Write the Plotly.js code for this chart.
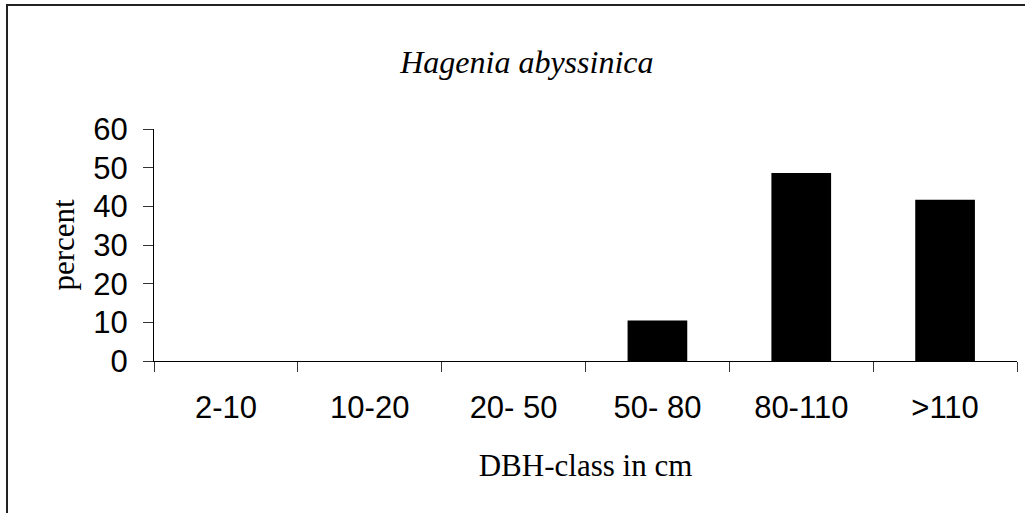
<!DOCTYPE html>
<html>
<head>
<meta charset="utf-8">
<script src="https://cdn.plot.ly/plotly-3.0.1.min.js"></script>
<style>
  html, body { margin: 0; padding: 0; background: #fff; }
  #chart { width: 1025px; height: 513px; }
</style>
</head>
<body>
<div id="chart"></div>
<script>
// DBH classes and share of stems (%)
var classes = ["2-10", "10-20", "20- 50", "50- 80", "80-110", ">110"];
var percent = [0, 0, 0, 10.5, 48.6, 41.7];
var yTicks = [0, 10, 20, 30, 40, 50, 60];

var sans = "Liberation Sans, Arial, sans-serif";
var serif = "Liberation Serif, Times New Roman, serif";

var bars = {
    type: "bar",
    x: classes,
    y: percent,
    marker: { color: "#000000", line: { color: "#000000", width: 0 } },
    hoverinfo: "x+y"
};

var layout = {
    width: 1025,
    height: 513,
    margin: { l: 154, r: 8, t: 129, b: 152, pad: 0 },
    paper_bgcolor: "#ffffff",
    plot_bgcolor: "#ffffff",
    showlegend: false,
    bargap: 0.585,
    title: {
        text: "<i>Hagenia abyssinica</i>",
        font: { family: serif, size: 32, color: "#000" },
        xref: "container", x: 0.514, xanchor: "center",
        yref: "container", y: 0.879, yanchor: "middle"
    },
    xaxis: {
        type: "category",
        range: [-0.5, 5.5],
        showline: true, linecolor: "#000", linewidth: 1,
        ticks: "outside", tickson: "boundaries", ticklen: 10, tickcolor: "#333", tickwidth: 1,
        showgrid: false, zeroline: false,
        tickfont: { family: sans, size: 31, color: "#000" },
        ticklabelstandoff: 19,
        title: { text: "DBH-class in cm", font: { family: serif, size: 31, color: "#000" }, standoff: 30 }
    },
    yaxis: {
        range: [0, 60],
        tickvals: yTicks,
        showline: true, linecolor: "#000", linewidth: 1,
        ticks: "outside", ticklen: 10, tickcolor: "#333", tickwidth: 1,
        showgrid: false, zeroline: false,
        tickfont: { family: sans, size: 31, color: "#000" },
        ticklabelstandoff: 9,
        title: { text: "percent", font: { family: serif, size: 31, color: "#000" }, standoff: 9 }
    },
    shapes: [{
        // frame around the whole chart object (cut by the window on right and bottom)
        type: "rect", xref: "paper", yref: "paper",
        x0: (7 - 154) / 863, x1: 1.03,
        y0: -0.8, y1: 1 + (129 - 5) / 232,
        line: { color: "#222", width: 2 },
        fillcolor: "rgba(0,0,0,0)",
        layer: "below"
    }]
};

Plotly.newPlot("chart", [bars], layout, { displayModeBar: false, staticPlot: true });
</script>
</body>
</html>
